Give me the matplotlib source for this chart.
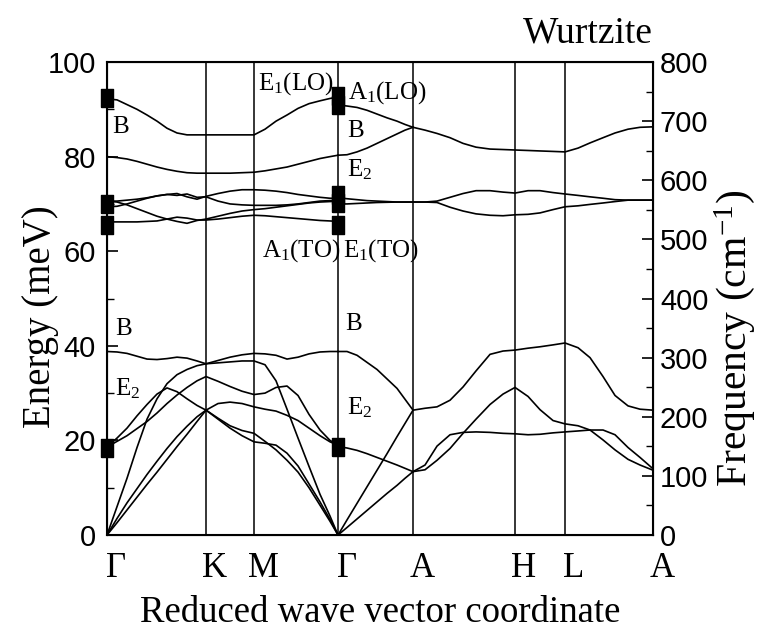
import numpy as np
import matplotlib
matplotlib.use("Agg")
import matplotlib.pyplot as plt
from matplotlib.ticker import MultipleLocator
from matplotlib.transforms import ScaledTranslation

plt.rcParams["font.family"] = ["Liberation Serif", "DejaVu Serif"]
plt.rcParams["mathtext.fontset"] = "custom"
plt.rcParams["mathtext.rm"] = "Liberation Serif"
plt.rcParams["mathtext.it"] = "Liberation Serif:italic"

NARROW = ["Liberation Sans Narrow", "Liberation Sans", "DejaVu Sans"]

# high symmetry points along the path
kpos = [0.0, 0.99, 1.47, 2.31, 3.06, 4.08, 4.58, 5.46]
klabels = ["Γ", "K", "M", "Γ", "A", "H", "L", "A"]

# --- Gamma - K - M - Gamma ---
q_gkmg = [0.00, 0.10, 0.20, 0.30, 0.40, 0.50, 0.60, 0.70, 0.80, 0.90, 0.99,
          1.11, 1.23, 1.35, 1.47, 1.58, 1.69, 1.80, 1.91, 2.02, 2.13, 2.23, 2.31]
gkmg_lo1 = [92.2, 92.0, 91.0, 90.0, 88.8, 87.5, 86.0, 85.0, 84.6, 84.6, 84.6,
            84.6, 84.6, 84.6, 84.6, 85.8, 87.5, 88.8, 90.2, 91.2, 91.8, 92.3, 92.6]
gkmg_lo2 = [80.0, 79.8, 79.5, 79.0, 78.4, 77.8, 77.3, 76.9, 76.6, 76.5, 76.5,
            76.5, 76.5, 76.6, 76.7, 77.0, 77.4, 77.8, 78.4, 79.0, 79.6, 80.0, 80.3]
gkmg_to1 = [70.6, 70.6, 70.8, 71.0, 71.3, 71.7, 72.0, 72.2, 71.5, 71.0, 71.6,
            72.2, 72.7, 73.0, 73.0, 72.9, 72.7, 72.4, 72.0, 71.7, 71.4, 71.2, 71.2]
gkmg_to2 = [69.4, 69.5, 70.0, 70.6, 71.2, 71.7, 72.0, 71.8, 72.1, 71.4, 71.5,
            70.6, 70.0, 69.8, 69.7, 69.7, 69.7, 69.8, 70.0, 70.3, 70.6, 70.7, 70.7]
gkmg_to3 = [70.6, 70.4, 69.8, 69.0, 68.2, 67.4, 66.8, 66.3, 65.9, 66.5, 66.8,
            67.4, 68.0, 68.5, 68.8, 69.0, 69.3, 69.6, 69.9, 70.2, 70.4, 70.5, 70.6]
gkmg_to4 = [66.2, 66.2, 66.2, 66.2, 66.3, 66.4, 66.8, 67.2, 67.0, 66.6, 66.6,
            66.8, 67.1, 67.4, 67.6, 67.5, 67.3, 67.1, 66.9, 66.7, 66.5, 66.4, 66.3]
gkmg_b = [38.8, 38.7, 38.4, 37.8, 37.2, 37.1, 37.3, 37.6, 37.4, 36.8, 36.2,
          36.9, 37.6, 38.1, 38.4, 38.3, 38.0, 37.2, 37.6, 38.3, 38.7, 38.8, 38.8]
gkmg_la = [0.0, 6.0, 12.0, 18.5, 24.5, 28.8, 32.0, 33.9, 35.0, 35.8, 36.2,
           36.4, 36.6, 36.8, 36.8, 36.0, 32.6, 26.6, 20.5, 14.5, 8.6, 4.0, 0.0]
gkmg_ta1 = [0.0, 3.5, 6.8, 9.8, 12.8, 15.6, 18.3, 20.8, 23.0, 25.0, 26.4,
            27.8, 28.1, 27.8, 27.1, 26.6, 26.2, 25.3, 24.2, 22.6, 21.0, 19.7, 19.0]
gkmg_ta2 = [0.0, 2.6, 5.3, 8.0, 10.7, 13.3, 16.0, 18.7, 21.3, 24.0, 26.4,
            24.7, 23.1, 22.1, 21.5, 19.8, 18.0, 15.8, 13.3, 10.0, 6.3, 2.9, 0.0]
gkmg_e2a = [18.6, 20.5, 22.6, 25.2, 27.6, 29.8, 31.1, 30.3, 28.8, 27.4, 26.4,
            24.5, 22.6, 21.0, 19.7, 19.4, 19.0, 17.3, 14.6, 10.8, 7.0, 3.3, 0.0]
gkmg_e2b = [18.6, 19.8, 21.0, 22.5, 24.0, 25.8, 27.8, 29.6, 31.2, 32.6, 33.5,
            32.5, 31.4, 30.4, 29.7, 30.0, 31.2, 31.5, 29.5, 25.5, 22.2, 20.0, 19.0]

# --- Gamma - A ---
q_ga = [2.31, 2.40, 2.50, 2.60, 2.70, 2.80, 2.90, 2.98, 3.06]
ga_lo1 = [90.9, 90.7, 90.4, 89.8, 89.0, 88.2, 87.5, 86.8, 86.2]
ga_lo2 = [80.3, 80.4, 81.0, 81.8, 82.8, 83.8, 84.8, 85.6, 86.2]
ga_to1 = [71.3, 71.1, 70.9, 70.7, 70.6, 70.5, 70.4, 70.4, 70.4]
ga_to2 = [70.0, 70.0, 70.1, 70.2, 70.3, 70.35, 70.4, 70.4, 70.4]
ga_b = [38.8, 38.8, 38.0, 36.5, 35.0, 33.0, 31.0, 28.7, 26.4]
ga_e2 = [18.7, 18.4, 17.9, 17.2, 16.4, 15.6, 14.8, 14.1, 13.4]
ga_la = [0.0, 3.2, 6.7, 10.2, 13.7, 17.2, 20.8, 23.6, 26.4]
ga_ta = [0.0, 1.6, 3.4, 5.2, 7.0, 8.8, 10.5, 12.0, 13.4]

# --- A - H - L - A ---
q_ahla = [3.06, 3.18, 3.30, 3.43, 3.56, 3.69, 3.83, 3.96, 4.08, 4.21,
          4.33, 4.46, 4.58, 4.71, 4.83, 4.96, 5.08, 5.21, 5.33, 5.46]
ahla_lo = [86.2, 85.6, 84.9, 84.0, 82.8, 82.0, 81.6, 81.5, 81.4, 81.3,
           81.2, 81.1, 81.0, 81.8, 82.9, 84.0, 85.0, 85.8, 86.2, 86.3]
ahla_to1 = [70.4, 70.4, 70.6, 71.4, 72.2, 72.8, 72.8, 72.5, 72.3, 72.8,
            72.8, 72.4, 72.1, 71.8, 71.5, 71.2, 70.9, 70.8, 70.8, 70.8]
ahla_to2 = [70.4, 70.4, 70.3, 69.3, 68.5, 67.9, 67.6, 67.5, 67.7, 67.8,
            68.1, 68.8, 69.4, 69.6, 69.9, 70.2, 70.5, 70.8, 70.8, 70.8]
ahla_b = [26.4, 26.8, 27.1, 28.5, 31.3, 34.7, 38.2, 38.9, 39.1, 39.5,
          39.8, 40.2, 40.6, 39.6, 37.5, 33.5, 29.5, 27.3, 26.6, 26.4]
ahla_flat = [13.4, 14.8, 18.8, 21.2, 21.7, 21.8, 21.7, 21.5, 21.4, 21.2,
             21.3, 21.6, 21.8, 22.0, 22.2, 22.2, 21.2, 18.5, 16.4, 14.0]
ahla_peak = [13.4, 13.8, 15.8, 18.3, 21.5, 24.5, 27.6, 29.8, 31.2, 29.3,
             26.5, 24.2, 23.5, 23.1, 22.2, 20.1, 18.0, 16.0, 14.8, 13.7]

# experimental points (meV) at the two Gamma points
exp_gamma1 = [92.3, 70.0, 65.5, 18.4]
exp_gamma2 = [92.8, 90.9, 71.9, 70.2, 65.6, 18.7]

# mode labels: (text, q, energy)
mode_labels = [
    ("B", 0.05, 85.0), ("E$_1$(LO)", 1.51, 94.1), ("A$_1$(LO)", 2.41, 92.2),
    ("B", 2.40, 84.1), ("E$_2$", 2.40, 75.9), ("A$_1$(TO)", 1.55, 58.8),
    ("E$_1$(TO)", 2.36, 58.8), ("B", 0.08, 42.3), ("E$_2$", 0.08, 29.6),
    ("B", 2.38, 43.3), ("E$_2$", 2.40, 25.6),
]

fig = plt.figure(figsize=(7.71, 6.31), dpi=100)
ax = fig.add_axes([0.1388, 0.1521, 0.7082, 0.7496])

for k in kpos[1:-1]:
    ax.axvline(k, color="black", lw=1.1, zorder=1)

segments = [
    (q_gkmg, [gkmg_lo1, gkmg_lo2, gkmg_to1, gkmg_to2, gkmg_to3, gkmg_to4,
              gkmg_b, gkmg_la, gkmg_ta1, gkmg_ta2, gkmg_e2a, gkmg_e2b]),
    (q_ga, [ga_lo1, ga_lo2, ga_to1, ga_to2, ga_b, ga_e2, ga_la, ga_ta]),
    (q_ahla, [ahla_lo, ahla_to1, ahla_to2, ahla_b, ahla_flat, ahla_peak]),
]
for q, branches in segments:
    for e in branches:
        ax.plot(q, e, color="black", lw=1.2, zorder=2)

# tall rectangle marker
rect = [(-0.65, -1), (0.65, -1), (0.65, 1), (-0.65, 1), (-0.65, -1)]
ax.plot([kpos[0]] * len(exp_gamma1), exp_gamma1, ls="none", marker=rect,
        ms=13.5, color="black", zorder=4, clip_on=False)
ax.plot([kpos[3]] * len(exp_gamma2), exp_gamma2, ls="none", marker=rect,
        ms=13.5, color="black", zorder=4, clip_on=False)

for txt, q, e in mode_labels:
    ax.text(q, e, txt, fontsize=18, ha="left", va="baseline", zorder=5)

ax.set_xlim(kpos[0], kpos[-1])
ax.set_ylim(0, 100)
ax.set_xticks(kpos, klabels, fontsize=25)
ax.tick_params(axis="x", length=0, pad=12)
offset = ScaledTranslation(9 / 100, 0, fig.dpi_scale_trans)
for lbl in ax.get_xticklabels():
    lbl.set_transform(lbl.get_transform() + offset)

ax.set_yticks([0, 20, 40, 60, 80, 100], ["0", "20", "40", "60", "80", "100"],
              fontsize=21, family=NARROW)
ax.yaxis.set_minor_locator(MultipleLocator(10))
ax.tick_params(axis="y", which="major", direction="in", length=8, width=1.2, pad=8)
ax.tick_params(axis="y", which="minor", direction="in", length=5, width=1.0)
for s in ax.spines.values():
    s.set_linewidth(1.5)

ax2 = ax.twinx()
ax2.set_ylim(0, 800)
ax2.set_yticks(range(0, 801, 100), [str(v) for v in range(0, 801, 100)],
               fontsize=21, family=NARROW)
ax2.yaxis.set_minor_locator(MultipleLocator(50))
ax2.tick_params(axis="y", which="major", direction="in", length=8, width=1.2, pad=5)
ax2.tick_params(axis="y", which="minor", direction="in", length=5, width=1.0)

ax.set_xlabel("Reduced wave vector coordinate", fontsize=26.5, labelpad=8)
ax.set_ylabel("Energy (meV)", fontsize=28)
ax.yaxis.set_label_coords(-0.088, 0.462)
ax2.set_ylabel("Frequency (cm$^{-1}$)", fontsize=30, rotation=90)
ax2.yaxis.set_label_coords(1.108, 0.4165)

fig.text(0.678, 0.932, "Wurtzite", fontsize=27, ha="left", va="baseline")

fig.savefig("out.png", dpi=100)
